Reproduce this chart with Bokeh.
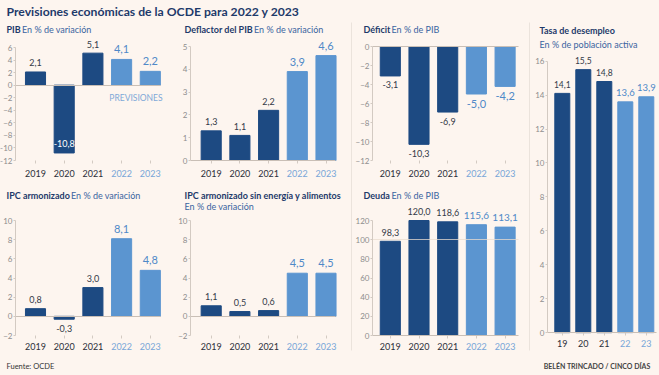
from bokeh.plotting import figure
from bokeh.models import (ColumnDataSource, LabelSet, Label, Range1d, FixedTicker,
                          LinearAxis)
from bokeh.layouts import row, column
from bokeh.core.properties import value, field
from bokeh.embed import file_html
from bokeh.resources import INLINE

# ---------------- data ----------------
years = [2019, 2020, 2021, 2022, 2023]
year_labels = ["2019", "2020", "2021", "2022", "2023"]
short_year_labels = ["19", "20", "21", "22", "23"]
is_forecast = [False, False, False, True, True]

pib = [2.1, -10.8, 5.1, 4.1, 2.2]
deflactor = [1.3, 1.1, 2.2, 3.9, 4.6]
deficit = [-3.1, -10.3, -6.9, -5.0, -4.2]
ipc = [0.8, -0.3, 3.0, 8.1, 4.8]
ipc_subyacente = [1.1, 0.5, 0.6, 4.5, 4.5]
deuda = [98.3, 120.0, 118.6, 115.6, 113.1]
desempleo = [14.1, 15.5, 14.8, 13.6, 13.9]

pib_ticks = [6, 4, 2, 0, -2, -4, -6, -8, -10, -12]
deflactor_ticks = [0, 1, 2, 3, 4, 5]
deficit_ticks = [0, -2, -4, -6, -8, -10, -12]
ipc_ticks = [10, 8, 6, 4, 2, 0, -2]
deuda_ticks = [0, 20, 40, 60, 80, 100, 120]
desempleo_ticks = [0, 2, 4, 6, 8, 10, 12, 14, 16]

# ---------------- style ----------------
FONT = "Lato"
BG = "#fdf5ef"
DARK = "#1d4a82"
LIGHT = "#5b95d0"
TITLE_C = "#1e3a6a"
SUB_C = "#3a64a0"
TICK_C = "#8d8d8d"
AX_C = "#d3cac2"
BASE_C = "#c9bfb6"
SEP_C = "#d9d1c9"
YEAR_DARK = "#2b2f3a"
YEAR_LIGHT = "#78a6d8"
LAB_DARK = "#333a48"
LAB_LIGHT = "#4f89c8"


def fmt(v):
    return f"{v:.1f}".replace(".", ",")


def make_panel(cell, frame, c0, step, yr, values, yticks, ytexts, bar_w, year_dy,
               subtitles, inside=(), over_line=None, dark_size=9, light_size=11):
    """cell: page box of the panel; frame: page box of the data area;
    c0: page x of the first bar centre; step: px between bars."""
    cx, cy, w, h = cell
    fl, ft, fr, fb = frame
    ymin, ymax = yr
    ppu = (fb - ft) / (ymax - ymin)

    def x_of(px):
        return years[0] + (px - c0) / step

    def y_of(py):
        return ymax - (py - ft) / ppu

    p = figure(width=w, height=h, x_range=Range1d(x_of(cx), x_of(cx + w)),
               y_range=Range1d(y_of(cy + h), y_of(cy)), title=None,
               x_axis_location=None, y_axis_location=None,
               output_backend="svg", toolbar_location=None, min_border=0,
               background_fill_color=BG, border_fill_color=BG, outline_line_color=None)
    p.grid.visible = False

    # y axis drawn at the data area's left edge
    yax = LinearAxis(fixed_location=x_of(fl), bounds=(ymin, ymax),
                     ticker=FixedTicker(ticks=yticks))
    yax.axis_line_color = AX_C
    yax.major_tick_line_color = AX_C
    yax.minor_tick_line_color = None
    yax.major_tick_out = 2
    yax.major_tick_in = 0
    yax.major_label_standoff = 1
    yax.major_label_text_font = FONT
    yax.major_label_text_font_size = "8px"
    yax.major_label_text_color = TICK_C
    p.add_layout(yax, "left")

    # small x ticks at the bottom of the data area
    xax = LinearAxis(fixed_location=ymin, bounds=(x_of(fl), x_of(fr)),
                     ticker=FixedTicker(ticks=years))
    xax.axis_line_color = None
    xax.major_tick_line_color = AX_C
    xax.minor_tick_line_color = None
    xax.major_tick_out = 3
    xax.major_tick_in = 0
    xax.major_label_text_color = None
    xax.major_label_text_font_size = "1px"
    p.add_layout(xax, "below")

    colors = [LIGHT if f else DARK for f in is_forecast]
    src = ColumnDataSource(dict(x=years, top=values, color=colors))
    p.vbar(x="x", top="top", bottom=0, width=bar_w, color="color", source=src)

    # baseline at zero (and an overlay reference line if asked)
    lines = [(0, BASE_C, 1.0)]
    if over_line is not None:
        lines.append((over_line, "#eadccf", 0.75))
    for loc, col, alpha in lines:
        bl = LinearAxis(fixed_location=loc, bounds=(x_of(fl), x_of(fr)),
                        ticker=FixedTicker(ticks=[]))
        bl.axis_line_color = col
        bl.axis_line_alpha = alpha
        bl.major_tick_line_color = None
        bl.minor_tick_line_color = None
        bl.major_label_text_color = None
        bl.major_label_text_font_size = "1px"
        p.add_layout(bl, "below")

    # value labels
    texts, offs, tcs, fss = [], [], [], []
    for i, (v, f) in enumerate(zip(values, is_forecast)):
        texts.append(fmt(v))
        size = light_size if f else dark_size
        d = size * 0.5 + 4.5
        if i in inside:
            offs.append(d if v < 0 else -d)
            tcs.append("#ffffff")
        else:
            offs.append(d if v >= 0 else -d)
            tcs.append(LAB_LIGHT if f else LAB_DARK)
        fss.append(f"{size}px")
    lsrc = ColumnDataSource(dict(x=years, y=values, t=texts, off=offs, tc=tcs, fs=fss))
    p.add_layout(LabelSet(x="x", y="y", text="t", source=lsrc, y_offset=field("off"),
                          text_color=field("tc"), text_font_size=field("fs"),
                          text_font=value(FONT), text_align="center",
                          text_baseline="middle"))

    # year labels under the data area
    ysrc = ColumnDataSource(dict(x=years, y=[ymin] * len(years), t=ytexts,
                                 tc=[YEAR_LIGHT if f else YEAR_DARK for f in is_forecast]))
    p.add_layout(LabelSet(x="x", y="y", text="t", source=ysrc, y_offset=-year_dy,
                          text_color=field("tc"), text_font_size=value("9px"),
                          text_font=value(FONT), text_align="center",
                          text_baseline="middle"))

    # subtitles, placed at page positions
    for text, px, py, bold in subtitles:
        p.add_layout(Label(x=x_of(px), y=y_of(py), text=text,
                           text_font=FONT, text_font_size="9px",
                           text_font_style="bold" if bold else "normal",
                           text_color=TITLE_C if bold else SUB_C,
                           text_align="left", text_baseline="middle"))
    return p


TOP_STEP = 28.7

p_pib = make_panel((0, 21, 176, 162), (15, 47, 160, 160), 35, TOP_STEP, (-12, 6),
                   pib, pib_ticks, year_labels, 0.70, 13,
                   [("PIB", 6, 29, True), ("En % de variación", 21.5, 29, False)],
                   inside=(1,))
p_pib.add_layout(Label(x=2022.5, y=-2, text="PREVISIONES", text_font=FONT,
                       text_font_size="8.5px", text_color="#7fa9d8",
                       text_align="center", text_baseline="middle"))

p_defl = make_panel((176, 21, 175, 162), (190, 46, 335, 160), 210.7, TOP_STEP, (0, 5),
                    deflactor, deflactor_ticks, year_labels, 0.70, 13,
                    [("Deflactor del PIB", 184, 29, True), ("En % de variación", 253.5, 29, False)])

p_ipc = make_panel((0, 184, 176, 168), (15, 220, 160, 335), 35, TOP_STEP, (-2, 10),
                   ipc, ipc_ticks, year_labels, 0.70, 10.7,
                   [("IPC armonizado", 6, 195, True), ("En % de variación", 70.5, 195, False)])

p_ipcs = make_panel((176, 184, 175, 168), (190, 220, 335, 335), 210.7, TOP_STEP, (-2, 10),
                    ipc_subyacente, ipc_ticks, year_labels, 0.70, 10.7,
                    [("IPC armonizado sin energía y alimentos", 184, 195, True),
                     ("En % de variación", 184, 206, False)])

p_def = make_panel((352, 21, 177, 162), (372, 46, 518, 160), 389.8, TOP_STEP, (-12, 0),
                   deficit, deficit_ticks, year_labels, 0.70, 13,
                   [("Déficit", 363, 29, True), ("En % de PIB", 391, 29, False)])

p_deuda = make_panel((352, 184, 177, 168), (372, 220, 518, 335), 389.8, TOP_STEP, (0, 120),
                     deuda, deuda_ticks, year_labels, 0.70, 10.7,
                     [("Deuda", 363, 195, True), ("En % de PIB", 391, 195, False)],
                     over_line=100, light_size=10)

p_paro = make_panel((530, 21, 129, 331), (547, 60, 656, 334), 561.8, 21.0, (0, 16),
                    desempleo, desempleo_ticks, short_year_labels, 0.714, 11,
                    [("Tasa de desempleo", 539, 29, True),
                     ("En % de población activa", 539, 43, False)],
                    dark_size=8.5, light_size=9.5)


def blank(w, h, fill=BG, mb=(0, 0, 0, 0)):
    f = figure(width=w, height=h, title=None, output_backend="svg", toolbar_location=None,
               x_axis_location=None, y_axis_location=None,
               min_border_left=mb[0], min_border_right=mb[1],
               min_border_top=mb[2], min_border_bottom=mb[3],
               background_fill_color=fill, border_fill_color=BG,
               outline_line_color=None, x_range=Range1d(0, 1), y_range=Range1d(0, 1))
    f.grid.visible = False
    return f


title_fig = blank(659, 21)
title_fig.add_layout(Label(x=0, y=1, x_offset=6, y_offset=-11,
                           text="Previsiones económicas de la OCDE para 2022 y 2023",
                           text_font=FONT, text_font_size="12.2px", text_font_style="bold",
                           text_color=TITLE_C, text_align="left", text_baseline="middle"))

footer = blank(659, 23)
footer.add_layout(Label(x=0, y=1, x_offset=6, y_offset=-13.7, text="Fuente: OCDE",
                        text_font=FONT, text_font_size="7.5px", text_color="#333333",
                        text_align="left", text_baseline="middle"))
footer.add_layout(Label(x=0, y=1, x_offset=650, y_offset=-13.7,
                        text="BELÉN TRINCADO / CINCO DÍAS",
                        text_font=FONT, text_font_size="7px", text_font_style="bold",
                        text_color="#444444", text_align="right", text_baseline="middle"))

hsep = blank(351, 1, fill=SEP_C, mb=(0, 4, 0, 0))
gap = blank(177, 1)
vsep1 = blank(1, 331, fill=SEP_C, mb=(0, 0, 1, 2))
vsep2 = blank(1, 331, fill=SEP_C, mb=(0, 0, 1, 2))

left_block = column(row(p_pib, p_defl, spacing=0), hsep, row(p_ipc, p_ipcs, spacing=0), spacing=0)
mid_block = column(p_def, gap, p_deuda, spacing=0)
middle = row(left_block, vsep1, mid_block, vsep2, p_paro, spacing=0)
page = column(title_fig, middle, footer, spacing=0)

html = file_html(page, INLINE)
html = html.replace("<head>", "<head><style>html,body{margin:0;padding:0;background:#fdf5ef;}</style>", 1)
open("out.html", "w").write(html)
